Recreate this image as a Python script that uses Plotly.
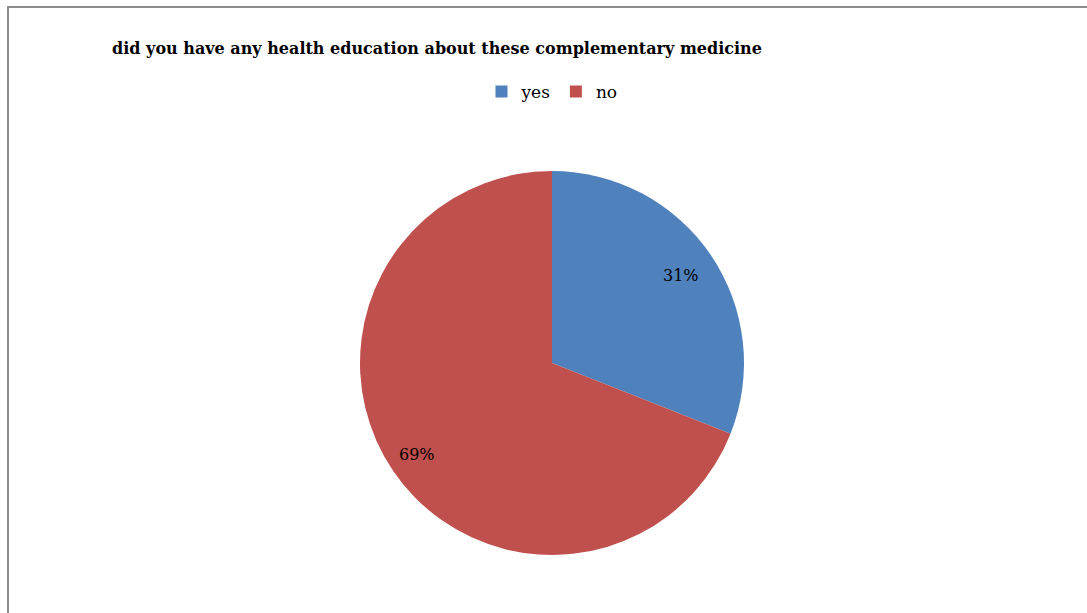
import math
import plotly.graph_objects as go

labels = ["yes", "no"]
values = [31, 69]
colors = ["#4F81BD", "#C0504D"]
title_text = "did you have any health education about these complementary medicine"

W, H = 1087, 613
cx, cy, r = 552, 363, 192
label_radius = [0.81, 0.85]  # fraction of pie radius where percentage labels sit

fig = go.Figure(go.Pie(
    labels=labels, values=values, sort=False, direction="clockwise", rotation=0,
    marker=dict(colors=colors, line=dict(width=0)),
    textinfo="none",
    domain=dict(x=[(cx - r) / W, (cx + r) / W], y=[(H - cy - r) / H, (H - cy + r) / H]),
    hoverinfo="label+percent",
))

# percentage labels placed along each slice's bisector (derived from the values)
total = sum(values)
annotations = []
cum = 0
for v, lr in zip(values, label_radius):
    mid = (cum + v / 2) / total * 2 * math.pi
    cum += v
    px = cx + lr * r * math.sin(mid)
    py = cy - lr * r * math.cos(mid)
    annotations.append(dict(
        text=f"{round(v / total * 100)}%", x=px / W, y=1 - py / H,
        xref="paper", yref="paper", showarrow=False, xanchor="center", yanchor="middle",
        font=dict(family="DejaVu Serif", size=16, color="#000000")))

fig.update_layout(
    width=W, height=H, autosize=False,
    margin=dict(l=0, r=0, t=0, b=0),
    paper_bgcolor="white", plot_bgcolor="white",
    title=dict(text="<b>" + title_text + "</b>", x=437 / W, xanchor="center",
               y=1 - 48 / H, yanchor="middle",
               font=dict(family="DejaVu Serif", size=16, color="#000000")),
    showlegend=True,
    legend=dict(orientation="h", x=552 / W, xanchor="center", y=1 - 92 / H, yanchor="middle",
                font=dict(family="DejaVu Serif", size=17, color="#000000"),
                itemwidth=30, tracegroupgap=0),
    annotations=annotations,
    shapes=[dict(type="rect", xref="paper", yref="paper",
                 x0=8 / W, x1=1.02, y0=-0.02, y1=1 - 7 / H,
                 line=dict(color="#8c8c8c", width=2), fillcolor="rgba(0,0,0,0)")],
)

fig.write_html("out.html")
